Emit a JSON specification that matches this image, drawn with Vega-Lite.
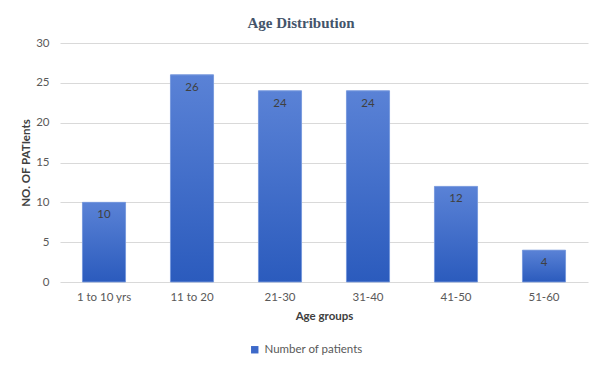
{
  "$schema": "https://vega.github.io/schema/vega-lite/v6.json",
  "autosize": {"type": "none"},
  "width": 528,
  "height": 239,
  "padding": {"left": 60, "top": 43, "right": 14, "bottom": 89},
  "background": "white",
  "title": {
    "text": "Age Distribution",
    "font": "Liberation Serif",
    "fontSize": 15,
    "fontWeight": "bold",
    "color": "#44546a",
    "anchor": "middle",
    "dx": -23,
    "offset": 6
  },
  "data": {
    "values": [
      {"group": "1 to 10 yrs", "patients": 10, "series": "Number of patients"},
      {"group": "11 to 20", "patients": 26, "series": "Number of patients"},
      {"group": "21-30", "patients": 24, "series": "Number of patients"},
      {"group": "31-40", "patients": 24, "series": "Number of patients"},
      {"group": "41-50", "patients": 12, "series": "Number of patients"},
      {"group": "51-60", "patients": 4, "series": "Number of patients"}
    ]
  },
  "encoding": {
    "x": {
      "field": "group",
      "type": "nominal",
      "sort": null,
      "scale": {"paddingInner": 0.51, "paddingOuter": 0.255},
      "axis": {
        "title": "Age groups",
        "labelAngle": 0,
        "labelPadding": 9,
        "ticks": false,
        "domain": false,
        "titlePadding": 8
      }
    },
    "y": {
      "field": "patients",
      "type": "quantitative",
      "scale": {"domain": [0, 30]},
      "axis": {
        "title": "NO. OF PATIents",
        "values": [0, 5, 10, 15, 20, 25, 30],
        "ticks": false,
        "domain": false,
        "labelPadding": 11,
        "titlePadding": 4
      }
    }
  },
  "layer": [
    {
      "mark": {"type": "bar"},
      "encoding": {
        "fill": {
          "field": "series",
          "type": "nominal",
          "scale": {"range": ["#3d69c9"]},
          "legend": {
            "title": null,
            "orient": "none",
            "legendX": 189,
            "legendY": 301,
            "symbolType": "square",
            "symbolSize": 55,
            "labelFontSize": 11.5,
            "labelColor": "#595959",
            "labelFont": "Lato"
          }
        }
      }
    },
    {
      "mark": {
        "type": "bar",
        "stroke": "#7f9fe0",
        "strokeWidth": 0.8,
        "fill": {
          "gradient": "linear",
          "x1": 0, "y1": 0, "x2": 0, "y2": 1,
          "stops": [
            {"offset": 0, "color": "#5a82d6"},
            {"offset": 1, "color": "#2b5bbd"}
          ]
        }
      },
      "encoding": {}
    },
    {
      "mark": {
        "type": "text",
        "baseline": "top",
        "dy": 7,
        "fontSize": 11.5,
        "font": "Lato",
        "color": "#404040"
      },
      "encoding": {
        "text": {"field": "patients", "type": "quantitative"}
      }
    }
  ],
  "config": {
    "view": {"stroke": null},
    "axis": {
      "labelFont": "Lato",
      "labelFontSize": 11.5,
      "labelColor": "#595959",
      "titleFont": "Lato",
      "titleFontSize": 11.5,
      "titleFontWeight": "bold",
      "titleColor": "#404040",
      "gridColor": "#d9d9d9",
      "gridWidth": 1
    },
    "axisX": {"grid": false}
  }
}
